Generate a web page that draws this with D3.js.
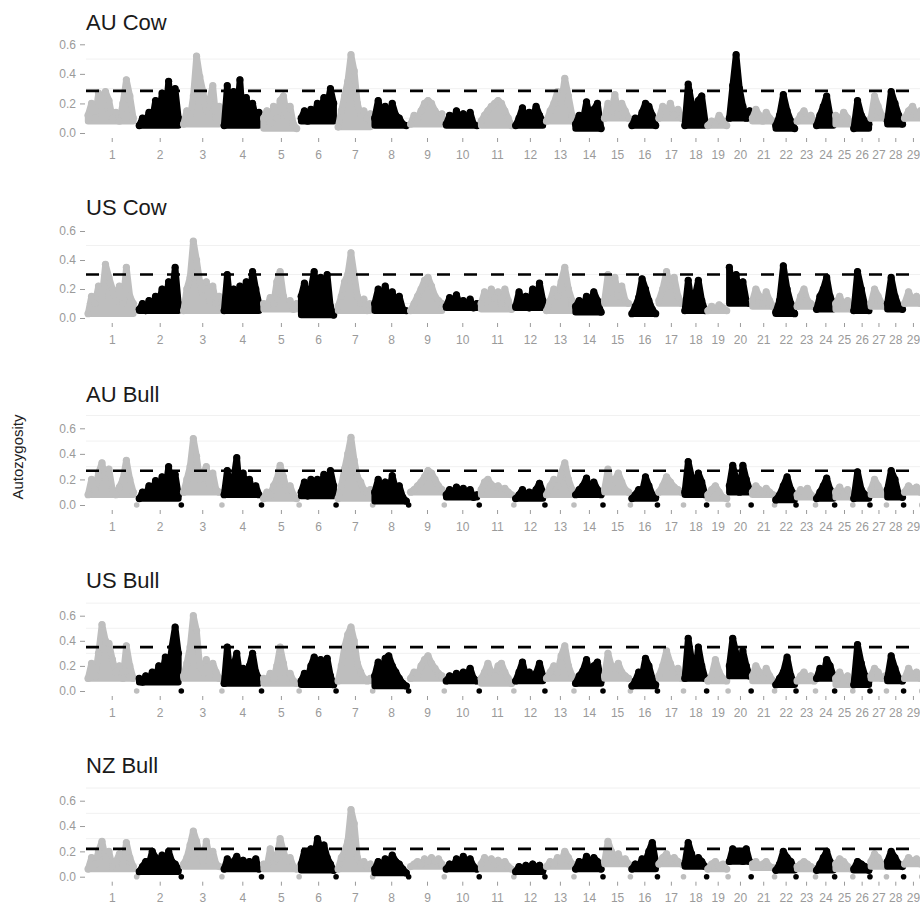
<!DOCTYPE html>
<html><head><meta charset="utf-8">
<script src="https://cdn.jsdelivr.net/npm/d3@7"></script>
<style>
body{margin:0;background:#fff}
svg{display:block}
text{font-family:"Liberation Sans",Arial,Helvetica,sans-serif}
</style></head>
<body><svg id="chart" width="920" height="904"></svg>
<script>
// ---------------- DATA ----------------
const chromosomes = [1,2,3,4,5,6,7,8,9,10,11,12,13,14,15,16,17,18,19,20,21,22,23,24,25,26,27,28,29];
const chromLengthMb = [156,135,123,120,114,112,111,109,108,106,105,94,88,88,83,82,79,70,65,70,71,65,59,58,55,52,50,52,55];
const panelNames = ["AU Cow","US Cow","AU Bull","US Bull","NZ Bull"];
const thresholds = [0.285,0.30,0.268,0.35,0.22];
const yTickValues = [0,0.2,0.4,0.6];
const gridValues = [0.1,0.3,0.5,0.7];

const auCow = [
 [0.12,0.2,0.1,0.27,0.15,0.28,0.22,0.1,0.14,0.08,0.2,0.36,0.25,0.1],
 [0.05,0.1,0.07,0.14,0.09,0.22,0.1,0.27,0.12,0.35,0.14,0.3,0.1],
 [0.06,0.15,0.1,0.25,0.52,0.38,0.28,0.15,0.22,0.32,0.1,0.18],
 [0.05,0.32,0.08,0.28,0.1,0.36,0.06,0.24,0.12,0.2,0.1,0.14],
 [0.1,0.15,0.07,0.18,0.1,0.22,0.25,0.12,0.18,0.06,0.03],
 [0.1,0.15,0.08,0.16,0.12,0.2,0.14,0.24,0.18,0.3,0.2],
 [0.04,0.15,0.25,0.35,0.53,0.42,0.2,0.12,0.15,0.1,0.13],
 [0.1,0.22,0.12,0.18,0.1,0.2,0.12,0.1,0.06,0.05],
 [0.06,0.12,0.1,0.15,0.2,0.22,0.2,0.15,0.12,0.13],
 [0.06,0.12,0.08,0.15,0.1,0.13,0.08,0.14,0.06,0.05],
 [0.08,0.12,0.15,0.18,0.2,0.22,0.2,0.15,0.1,0.05],
 [0.05,0.1,0.17,0.08,0.14,0.1,0.18,0.12,0.08],
 [0.08,0.15,0.2,0.28,0.2,0.37,0.25,0.12],
 [0.06,0.12,0.08,0.21,0.1,0.16,0.2,0.03],
 [0.1,0.2,0.15,0.26,0.12,0.2,0.15,0.1],
 [0.05,0.1,0.07,0.14,0.2,0.18,0.12,0.05],
 [0.1,0.18,0.14,0.2,0.12,0.16,0.1],
 [0.05,0.33,0.2,0.1,0.22,0.25,0.08],
 [0.05,0.08,0.06,0.12,0.08,0.05],
 [0.1,0.32,0.53,0.3,0.18,0.1,0.15],
 [0.1,0.16,0.12,0.08,0.14,0.1,0.08],
 [0.05,0.12,0.26,0.15,0.08,0.03],
 [0.08,0.12,0.15,0.1,0.12,0.08],
 [0.05,0.12,0.18,0.25,0.12,0.08],
 [0.12,0.08,0.14,0.1,0.06],
 [0.03,0.22,0.12,0.08,0.06],
 [0.1,0.25,0.18,0.12,0.1],
 [0.08,0.28,0.2,0.12,0.06],
 [0.1,0.15,0.18,0.12,0.15]
];
const usCow = [
 [0.03,0.15,0.1,0.22,0.14,0.37,0.28,0.2,0.12,0.22,0.1,0.35,0.15,0.1],
 [0.06,0.1,0.05,0.12,0.07,0.15,0.1,0.2,0.1,0.25,0.15,0.35,0.1],
 [0.05,0.2,0.28,0.53,0.4,0.25,0.15,0.25,0.12,0.22,0.1,0.15],
 [0.05,0.3,0.08,0.2,0.1,0.22,0.15,0.25,0.12,0.32,0.2,0.1],
 [0.1,0.08,0.14,0.1,0.25,0.32,0.15,0.08,0.12,0.06,0.1],
 [0.15,0.24,0.1,0.2,0.32,0.15,0.28,0.12,0.3,0.08,0.02],
 [0.08,0.15,0.25,0.3,0.45,0.3,0.15,0.1,0.13,0.05,0.1],
 [0.1,0.2,0.14,0.22,0.12,0.18,0.1,0.15,0.06,0.05],
 [0.05,0.1,0.15,0.2,0.26,0.28,0.22,0.15,0.12,0.1],
 [0.08,0.14,0.1,0.16,0.09,0.12,0.08,0.13,0.07,0.1],
 [0.1,0.18,0.12,0.2,0.14,0.18,0.1,0.2,0.12,0.06],
 [0.08,0.18,0.1,0.15,0.07,0.2,0.1,0.24,0.12],
 [0.05,0.12,0.2,0.15,0.25,0.35,0.2,0.12],
 [0.08,0.12,0.07,0.15,0.1,0.18,0.12,0.04],
 [0.12,0.3,0.18,0.28,0.15,0.22,0.12,0.1],
 [0.03,0.08,0.14,0.27,0.2,0.12,0.06,0.03],
 [0.12,0.2,0.32,0.22,0.28,0.15,0.1],
 [0.05,0.26,0.1,0.15,0.26,0.12,0.05],
 [0.05,0.08,0.06,0.09,0.07,0.05],
 [0.35,0.2,0.3,0.15,0.25,0.12,0.1],
 [0.12,0.2,0.15,0.1,0.18,0.12,0.08],
 [0.04,0.12,0.36,0.2,0.1,0.03],
 [0.08,0.15,0.2,0.12,0.1,0.08],
 [0.06,0.15,0.2,0.28,0.15,0.1],
 [0.1,0.15,0.08,0.12,0.06],
 [0.05,0.32,0.2,0.08,0.05],
 [0.1,0.2,0.15,0.1,0.08],
 [0.1,0.28,0.15,0.08,0.06],
 [0.1,0.18,0.12,0.15,0.1]
];
const auBull = [
 [0.08,0.2,0.12,0.25,0.33,0.2,0.28,0.12,0.08,0.14,0.2,0.35,0.2,0.1],
 [0.05,0.1,0.07,0.15,0.1,0.19,0.1,0.22,0.12,0.3,0.1,0.24,0.08],
 [0.1,0.2,0.3,0.52,0.38,0.2,0.25,0.3,0.15,0.25,0.12,0.1],
 [0.08,0.27,0.1,0.2,0.37,0.1,0.25,0.12,0.2,0.1,0.15,0.08],
 [0.05,0.1,0.08,0.15,0.2,0.31,0.22,0.12,0.15,0.08,0.05],
 [0.1,0.18,0.07,0.2,0.1,0.2,0.14,0.24,0.12,0.27,0.15],
 [0.05,0.15,0.28,0.4,0.53,0.35,0.22,0.18,0.12,0.1,0.12],
 [0.1,0.2,0.12,0.18,0.1,0.23,0.12,0.15,0.06,0.03],
 [0.1,0.12,0.15,0.18,0.22,0.27,0.25,0.2,0.15,0.12],
 [0.08,0.12,0.09,0.14,0.1,0.13,0.08,0.12,0.06,0.08],
 [0.12,0.18,0.2,0.16,0.14,0.15,0.12,0.13,0.1,0.08],
 [0.05,0.08,0.12,0.06,0.1,0.08,0.12,0.17,0.1],
 [0.08,0.15,0.2,0.15,0.25,0.33,0.2,0.12],
 [0.08,0.12,0.15,0.21,0.1,0.18,0.12,0.08],
 [0.12,0.28,0.15,0.2,0.25,0.18,0.12,0.1],
 [0.05,0.08,0.12,0.1,0.22,0.15,0.08,0.06],
 [0.1,0.15,0.22,0.18,0.14,0.12,0.1],
 [0.1,0.34,0.22,0.1,0.25,0.18,0.08],
 [0.08,0.12,0.15,0.1,0.06,0.05],
 [0.15,0.31,0.2,0.1,0.31,0.2,0.12],
 [0.1,0.15,0.12,0.1,0.13,0.1,0.08],
 [0.04,0.08,0.15,0.22,0.12,0.08],
 [0.08,0.12,0.1,0.13,0.08,0.06],
 [0.05,0.1,0.15,0.21,0.12,0.08],
 [0.1,0.14,0.08,0.12,0.06],
 [0.05,0.26,0.12,0.08,0.06],
 [0.12,0.2,0.15,0.1,0.08],
 [0.12,0.27,0.2,0.08,0.06],
 [0.1,0.15,0.12,0.14,0.1]
];
const usBull = [
 [0.1,0.22,0.12,0.3,0.53,0.4,0.38,0.25,0.15,0.2,0.1,0.36,0.2,0.1],
 [0.1,0.07,0.12,0.08,0.15,0.1,0.2,0.12,0.27,0.15,0.35,0.51,0.3],
 [0.12,0.22,0.35,0.6,0.48,0.2,0.15,0.25,0.12,0.22,0.15,0.1],
 [0.06,0.35,0.1,0.2,0.3,0.12,0.18,0.1,0.2,0.3,0.15,0.1],
 [0.1,0.08,0.14,0.1,0.2,0.35,0.22,0.1,0.14,0.08,0.06],
 [0.08,0.14,0.1,0.2,0.27,0.22,0.25,0.18,0.26,0.12,0.05],
 [0.08,0.2,0.35,0.45,0.51,0.4,0.22,0.15,0.1,0.08,0.1],
 [0.12,0.23,0.15,0.26,0.28,0.2,0.15,0.1,0.06,0.04],
 [0.1,0.15,0.12,0.2,0.25,0.28,0.22,0.18,0.14,0.12],
 [0.08,0.12,0.1,0.14,0.1,0.15,0.12,0.18,0.1,0.08],
 [0.1,0.15,0.22,0.15,0.12,0.2,0.22,0.15,0.1,0.06],
 [0.08,0.15,0.23,0.12,0.15,0.1,0.14,0.22,0.12],
 [0.1,0.15,0.2,0.15,0.28,0.36,0.2,0.12],
 [0.06,0.12,0.16,0.25,0.12,0.2,0.23,0.08],
 [0.12,0.3,0.2,0.18,0.22,0.15,0.12,0.1],
 [0.04,0.08,0.15,0.12,0.26,0.2,0.1,0.05],
 [0.12,0.2,0.32,0.22,0.15,0.18,0.1],
 [0.1,0.42,0.25,0.12,0.35,0.2,0.1],
 [0.08,0.12,0.25,0.15,0.1,0.08],
 [0.2,0.42,0.3,0.15,0.32,0.2,0.12],
 [0.12,0.2,0.15,0.1,0.18,0.12,0.08],
 [0.05,0.1,0.15,0.27,0.12,0.06],
 [0.08,0.12,0.15,0.1,0.12,0.08],
 [0.1,0.18,0.12,0.25,0.2,0.12],
 [0.1,0.15,0.08,0.12,0.05],
 [0.05,0.37,0.22,0.12,0.08],
 [0.12,0.18,0.15,0.1,0.12],
 [0.1,0.28,0.18,0.1,0.08],
 [0.1,0.18,0.12,0.15,0.1]
];
const nzBull = [
 [0.06,0.15,0.1,0.2,0.28,0.15,0.2,0.08,0.12,0.18,0.1,0.27,0.15,0.08],
 [0.04,0.08,0.12,0.1,0.2,0.15,0.1,0.17,0.08,0.2,0.12,0.1,0.06],
 [0.1,0.15,0.25,0.36,0.28,0.18,0.12,0.28,0.15,0.2,0.1,0.08],
 [0.06,0.14,0.08,0.12,0.16,0.1,0.13,0.08,0.12,0.1,0.14,0.06],
 [0.1,0.08,0.22,0.12,0.15,0.3,0.2,0.12,0.15,0.08,0.06],
 [0.1,0.2,0.12,0.22,0.15,0.3,0.22,0.25,0.15,0.1,0.05],
 [0.06,0.15,0.2,0.28,0.53,0.42,0.15,0.1,0.12,0.08,0.1],
 [0.06,0.12,0.08,0.14,0.1,0.17,0.12,0.1,0.06,0.03],
 [0.08,0.1,0.12,0.1,0.14,0.12,0.15,0.12,0.14,0.1],
 [0.06,0.1,0.08,0.14,0.1,0.16,0.1,0.14,0.08,0.06],
 [0.1,0.15,0.12,0.14,0.1,0.13,0.1,0.12,0.08,0.06],
 [0.04,0.08,0.05,0.09,0.06,0.1,0.07,0.09,0.05],
 [0.08,0.12,0.1,0.15,0.12,0.2,0.15,0.1],
 [0.06,0.12,0.08,0.16,0.1,0.15,0.12,0.06],
 [0.12,0.28,0.2,0.15,0.18,0.12,0.14,0.1],
 [0.06,0.1,0.08,0.14,0.12,0.2,0.27,0.12],
 [0.1,0.15,0.18,0.12,0.15,0.12,0.1],
 [0.1,0.27,0.18,0.1,0.15,0.12,0.08],
 [0.06,0.1,0.12,0.08,0.1,0.06],
 [0.12,0.22,0.15,0.2,0.12,0.22,0.12],
 [0.1,0.12,0.08,0.1,0.12,0.08,0.07],
 [0.05,0.1,0.2,0.15,0.12,0.06],
 [0.08,0.1,0.12,0.1,0.08,0.06],
 [0.05,0.1,0.15,0.2,0.12,0.08],
 [0.1,0.14,0.12,0.08,0.06],
 [0.06,0.12,0.1,0.08,0.05],
 [0.12,0.18,0.15,0.1,0.08],
 [0.12,0.2,0.15,0.1,0.08],
 [0.1,0.15,0.12,0.14,0.1]
];
// value of the last SNP of each chromosome (isolated point), bull panels only
const auBullLast = [0,0,0,0,0,0,0,0,0,0,0,0,0,0,0,0,0,0,0,0,0,0,0,0,0,0,0,0,0];
const usBullLast = [0,0,0,0,0,0,0,0,0,0,0,0,0,0,0,0,0,0,0,0,0,0,0,0,0,0,0,0,0];
const nzBullLast = [0,0,0,0,0,0,0,0,0,0,0,0,0,0,0,0,0,0,0,0,0,0,0,0,0,0,0,0,0];

const panelSeries = [auCow, usCow, auBull, usBull, nzBull];
const panelLast = [null, null, auBullLast, usBullLast, nzBullLast];

// ---------------- LAYOUT ----------------
const layout = [
  {zero:133,   six:44.3,  top:0.62, title:30},
  {zero:318,   six:231,   top:0.62, title:215},
  {zero:505,   six:428.3, top:0.75, title:401.7},
  {zero:691,   six:615.7, top:0.75, title:588},
  {zero:876.7, six:800.7, top:0.75, title:773}
];
const X0 = 86, X1 = 922;
const GREY = "#bebebe", BLACK = "#000000", AXIS = "#9a9a9a";

const svg = d3.select("#chart");
const starts = [];
let acc = 0;
chromLengthMb.forEach(l => { starts.push(acc); acc += l; });
const total = acc;
const x = d3.scaleLinear().domain([0, total]).range([X0, X1]);
const mids = chromLengthMb.map((l,i) => starts[i] + l/2);

panelNames.forEach((name, p) => {
  const L = layout[p];
  const y = d3.scaleLinear().domain([0, 0.6]).range([L.zero, L.six]);
  const g = svg.append("g");

  g.selectAll("line.grid").data(gridValues.filter(v => v < L.top)).join("line")
    .attr("x1", X0).attr("x2", 920).attr("y1", d => y(d)).attr("y2", d => y(d))
    .attr("stroke", "#f1f1f1").attr("stroke-width", 1);

  g.append("text").attr("x", X0).attr("y", L.title).attr("font-size", 22)
    .attr("fill", "#1a1a1a").text(name);

  const series = panelSeries[p];
  series.forEach((vals, c) => {
    const col = (c % 2 === 0) ? GREY : BLACK;
    const n = vals.length;
    const len = chromLengthMb[c];
    const floor = d3.min(vals);
    const pts = vals.map((v, i) => ({pos: starts[c] + len * (0.04 + 0.88 * i / (n - 1)), v}));
    const area = d3.area().x(d => x(d.pos)).y0(y(floor)).y1(d => y(d.v)).curve(d3.curveLinear);
    g.append("path").attr("d", area(pts)).attr("fill", col).attr("stroke", col)
      .attr("stroke-width", 6.5).attr("stroke-linejoin", "round").attr("stroke-linecap", "round");
    g.selectAll(null).data(pts).join("circle")
      .attr("cx", d => x(d.pos)).attr("cy", d => y(d.v)).attr("r", 3.6).attr("fill", col);
    if (panelLast[p]) {
      g.append("circle").attr("cx", x(starts[c] + len * 0.985)).attr("cy", y(panelLast[p][c]))
        .attr("r", 2.8).attr("fill", col);
    }
  });

  g.append("line").attr("x1", X0).attr("x2", 920)
    .attr("y1", y(thresholds[p])).attr("y2", y(thresholds[p]))
    .attr("stroke", "#000").attr("stroke-width", 2.6).attr("stroke-dasharray", "13,14");

  const ya = g.append("g").attr("transform", `translate(${X0 - 1},0)`)
    .call(d3.axisLeft(y).tickValues(yTickValues).tickFormat(d3.format(".1f")).tickSize(5).tickPadding(4));
  ya.select(".domain").remove();
  ya.selectAll("line").attr("stroke", AXIS);
  ya.selectAll("text").attr("fill", AXIS).attr("font-size", 12).attr("font-family", "Liberation Sans, Arial, sans-serif");

  const xa = g.append("g").attr("transform", `translate(0,${L.zero + 5})`)
    .call(d3.axisBottom(x).tickValues(mids).tickFormat((d, i) => chromosomes[i]).tickSize(4).tickPadding(8));
  xa.select(".domain").remove();
  xa.selectAll("line").attr("stroke", AXIS);
  xa.selectAll("text").attr("fill", AXIS).attr("font-size", 12).attr("font-family", "Liberation Sans, Arial, sans-serif");
});

svg.append("text").attr("transform", "translate(23,457) rotate(-90)")
  .attr("text-anchor", "middle").attr("font-size", 15).attr("fill", "#222").text("Autozygosity");
</script></body></html>
